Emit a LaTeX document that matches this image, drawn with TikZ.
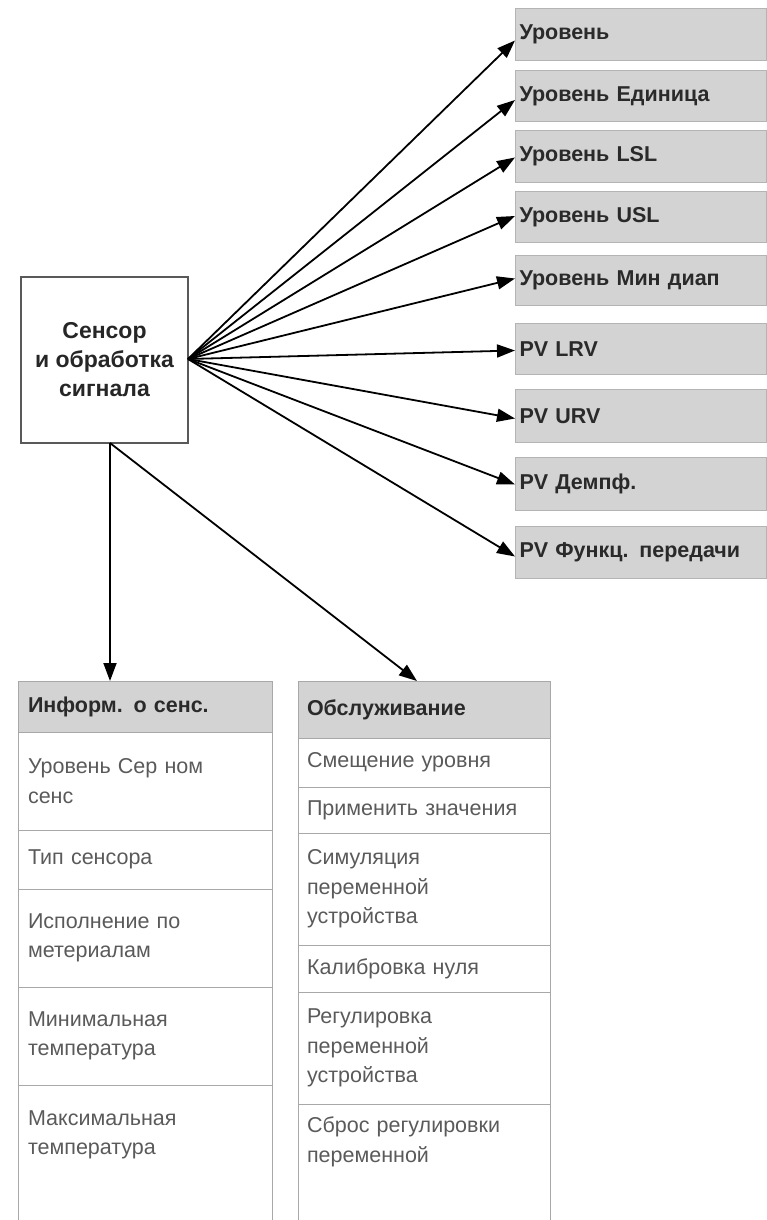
\documentclass[tikz,border=0pt]{standalone}
\usepackage{fontspec}
\setmainfont{Liberation Sans}
\usetikzlibrary{arrows.meta}
\definecolor{boxfill}{HTML}{D3D3D3}
\definecolor{boxborder}{HTML}{B4B4B4}
\definecolor{gridline}{HTML}{A8A8A8}
\definecolor{celltext}{HTML}{5A5A5A}
\definecolor{headtext}{HTML}{2A2A2A}
\begin{document}
\begin{tikzpicture}[x=1pt,y=-1pt,
  topbox/.style={draw=boxborder, fill=boxfill, line width=1pt, anchor=north west,
    text width=243pt, inner xsep=4pt, inner ysep=0pt, align=left, minimum height=#1,
    font=\fontsize{21.5}{24}\selectfont\bfseries, text=headtext},
  cellone/.style={draw=gridline, line width=1pt, anchor=north west, outer sep=0pt,
    text width=234pt, inner xsep=10pt, inner ysep=0pt, align=left, minimum height=#1,
    font=\fontsize{21.5}{29.5}\selectfont, text=celltext},
  celltwo/.style={cellone=#1, text width=234pt, inner xsep=9pt},
  headone/.style={cellone=#1, fill=boxfill, font=\fontsize{21.5}{24}\selectfont\bfseries, text=headtext},
  headtwo/.style={headone=#1, inner xsep=9pt},
  lastcell/.style={draw=none},
  sensor/.style={draw=black!65, line width=1.6pt, minimum width=167pt, minimum height=166pt,
    align=center, font=\fontsize{23}{29}\selectfont\bfseries, text=black!85},
  arr/.style={line width=1.8pt, -{Triangle[length=18pt,width=13pt]}},
  grid/.style={draw=gridline, line width=1pt}
]
\useasboundingbox (0,0) rectangle (766,1220);

% top boxes
\node[topbox=52pt] (t1) at (515,8) {Уровень};
\node[topbox=51pt] (t2) at (515,70) {Уровень Единица};
\node[topbox=52pt] (t3) at (515,130) {Уровень LSL};
\node[topbox=51pt] (t4) at (515,191) {Уровень USL};
\node[topbox=50pt] (t5) at (515,255) {Уровень Мин диап};
\node[topbox=51pt] (t6) at (515,323) {PV LRV};
\node[topbox=53pt] (t7) at (515,389) {PV URV};
\node[topbox=53pt] (t8) at (515,457) {PV Демпф.};
\node[topbox=52pt] (t9) at (515,526) {PV Функц. передачи};

% sensor
\node[sensor] (s) at (104.5,360) {Сенсор\\и обработка\\сигнала};
\coordinate (se) at (188,359);
\coordinate (sb) at (110,443);

% table 1
\node[headone=51pt] (h1) at (18,681) {Информ. о сенс.};
\node[cellone=98pt] (a1) at (18,732) {Уровень Сер ном\\сенс};
\node[cellone=59pt] (a2) at (18,830) {Тип сенсора};
\node[cellone=98pt] (a3) at (18,889) {Исполнение по\\метериалам};
\node[cellone=98pt] (a4) at (18,987) {Минимальная\\температура};
\node[cellone=100pt, lastcell] (a5) at (18,1085) {Максимальная\\температура};
\coordinate (a5bl) at (a5.north west |- 0,1222);
\coordinate (a5br) at (a5.north east |- 0,1222);
\draw[grid] (a5.north west) -- (a5bl);
\draw[grid] (a5.north east) -- (a5br);

% table 2
\node[headtwo=57pt] (h2) at (298,681) {Обслуживание};
\node[celltwo=49pt] (b1) at (298,738) {Смещение уровня};
\node[celltwo=46pt] (b2) at (298,787) {Применить значения};
\node[celltwo=112pt] (b3) at (298,833) {Симуляция\\переменной\\устройства};
\node[celltwo=47pt] (b4) at (298,945) {Калибровка нуля};
\node[celltwo=112pt] (b5) at (298,992) {Регулировка\\переменной\\устройства};
\node[celltwo=76pt, lastcell] (b6) at (298,1104) {Сброс регулировки\\переменной};
\coordinate (b6bl) at (b6.north west |- 0,1222);
\coordinate (b6br) at (b6.north east |- 0,1222);
\draw[grid] (b6.north west) -- (b6bl);
\draw[grid] (b6.north east) -- (b6br);

% arrows
\draw[arr] (se) -- ([yshift=-6pt]t1.west);
\draw[arr] (se) -- ([yshift=-4pt]t2.west);
\draw[arr] (se) -- ([yshift=-1pt]t3.west);
\draw[arr] (se) -- ([yshift=1pt]t4.west);
\draw[arr] (se) -- ([yshift=2pt]t5.west);
\draw[arr] (se) -- ([yshift=-1.5pt]t6.west);
\draw[arr] (se) -- ([yshift=-2.5pt]t7.west);
\draw[arr] (se) -- ([yshift=-0.5pt]t8.west);
\draw[arr] (se) -- ([yshift=-4pt]t9.west);
\draw[arr] (sb) -- (h1.north -| sb);
\draw[arr] (sb) -- ([xshift=-7pt]h2.north);
\end{tikzpicture}
\end{document}
